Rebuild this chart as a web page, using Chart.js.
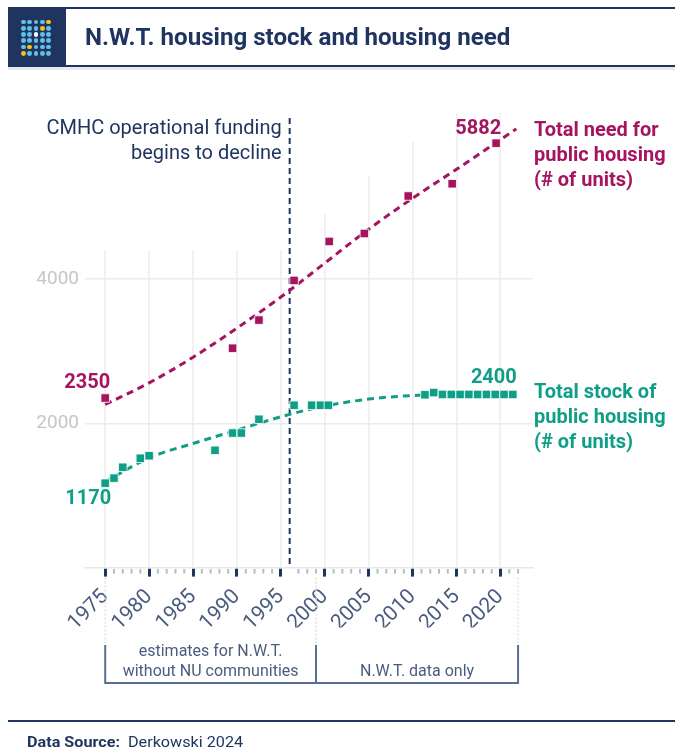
<!DOCTYPE html>
<html><head><meta charset="utf-8">
<script src="https://cdn.jsdelivr.net/npm/chart.js@4/dist/chart.umd.min.js"></script>
<style>
html,body{margin:0;padding:0;background:#fff;width:675px;height:753px;overflow:hidden;font-family:Roboto,"Noto Sans",sans-serif;}
#wrap{position:relative;width:675px;height:753px;}
canvas{position:absolute;left:0;top:0;}
.abs{position:absolute;}
.dot{position:absolute;width:4.8px;height:4.8px;border-radius:50%;}
#title{left:85px;top:21px;font-weight:700;font-size:24px;line-height:32px;color:#1f3560;white-space:nowrap;transform-origin:0 50%;}
#src{left:27px;top:732px;font-size:15.5px;line-height:20px;color:#1f3560;white-space:nowrap;transform-origin:0 50%;}
</style></head><body>
<div id="wrap">
<canvas id="c" width="675" height="753"></canvas>
<div class="abs" style="left:8px;top:7px;width:667px;height:2px;background:#1f3560"></div>
<div class="abs" id="logo" style="left:8px;top:8px;width:58px;height:58px;background:#1f3560"></div>
<div class="abs" style="left:8px;top:65px;width:667px;height:2px;background:#1f3560"></div>
<div class="abs" style="left:8px;top:67px;width:667px;height:3px;background:#e6e9ee"></div>
<div class="abs" id="title">N.W.T. housing stock and housing need</div>
<div class="abs" style="left:8px;top:720px;width:667px;height:2px;background:#1f3560"></div>
<div class="abs" id="src"><b>Data Source:</b>&nbsp;&nbsp;Derkowski 2024</div>
</div>
<script>
// ---------- data ----------
const needYears  = [1975, 1989.5, 1992.5, 1996.5, 2000.5, 2004.5, 2009.5, 2014.5, 2019.5];
const needValues = [2350, 3040, 3430, 3980, 4520, 4630, 5150, 5320, 5882];

const stockYears  = [1975, 1976, 1977, 1979, 1980, 1987.5, 1989.5, 1990.5, 1992.5, 1996.5, 1998.5, 1999.5, 2000.4,
                     2011.4, 2012.4, 2013.4, 2014.4, 2015.4, 2016.4, 2017.4, 2018.4, 2019.4, 2020.4, 2021.4];
const stockValues = [1170, 1240, 1390, 1515, 1550, 1625, 1865, 1865, 2055, 2250, 2250, 2250, 2250,
                     2395, 2425, 2400, 2400, 2400, 2400, 2400, 2400, 2400, 2400, 2400];

const trendYears      = [1975, 1980, 1985, 1990, 1995, 2000, 2005, 2010, 2015, 2020, 2021.8];
const needTrendValues = [2260, 2560, 2915, 3320, 3750, 4220, 4690, 5120, 5520, 5930, 6080];
const stockTrendValues= [1190, 1520, 1720, 1905, 2090, 2240, 2335, 2385, 2400, 2400, 2400];

const xTickYears   = [];  for (let yr = 1975; yr <= 2022; yr++) xTickYears.push(yr);
const xLabelYears  = [1975, 1980, 1985, 1990, 1995, 2000, 2005, 2010, 2015, 2020];
const yTickValues  = [2000, 4000];
const gridTops     = [4400, 4400, 4400, 4400, 4400, 4900, 5430, 5900, 6300, 6300];
const fundingYear  = 1996;
const fundingText  = ['CMHC operational funding', 'begins to decline'];
const needLabel    = ['Total need for', 'public housing', '(# of units)'];
const stockLabel   = ['Total stock of', 'public housing', '(# of units)'];
const periodBounds = [1975, 1999, 2022];
const periodLabels = [['estimates for N.W.T.', 'without NU communities'], ['N.W.T. data only']];

// ---------- header decorations ----------
const logo = document.getElementById('logo');
const dotColors = [
 ['b','b','b','b','y'],
 ['b','b','b','y','b'],
 ['b','b','w','b','b'],
 ['b','b','b','b','b'],
 ['b','y','b','b','b'],
 ['y','b','b','b','b']];
const cmap = {b:'#62bfe6', y:'#f3c316', w:'#ffffff'};
dotColors.forEach((row,r)=>row.forEach((c,ci)=>{
  const d=document.createElement('div'); d.className='dot';
  d.style.left=(13+ci*6.3)+'px'; d.style.top=(11.5+r*6.3)+'px'; d.style.background=cmap[c];
  logo.appendChild(d);
}));
function fitWidth(id, w){ const el=document.getElementById(id); const s=w/el.scrollWidth; el.style.transform='scaleX('+s+')'; }

// ---------- chart ----------
const NEED='#a5145e', STOCK='#0f9f86', NAVY='#1f3560', SLATE='#4b5c80';
const FONT='Roboto, "Noto Sans", sans-serif';

const deco = {
  id:'deco',
  beforeDatasetsDraw(chart){
    const {ctx, chartArea:a, scales:{x,y}} = chart;
    ctx.save();
    ctx.strokeStyle='#ececec'; ctx.lineWidth=1.5;
    xLabelYears.forEach((yr,i)=>{
      const px=Math.round(x.getPixelForValue(yr));
      ctx.beginPath(); ctx.moveTo(px, y.getPixelForValue(gridTops[i])); ctx.lineTo(px, a.bottom); ctx.stroke();
    });
    const fx = x.getPixelForValue(fundingYear);
    ctx.strokeStyle=NAVY; ctx.lineWidth=2; ctx.setLineDash([6,4]);
    ctx.beginPath(); ctx.moveTo(fx, a.top+5); ctx.lineTo(fx, a.bottom); ctx.stroke();
    ctx.restore();
  },
  afterDraw(chart){
    const {ctx, chartArea:a, scales:{x,y}} = chart;
    ctx.save();
    // minor ticks
    ctx.strokeStyle='#b3bccd'; ctx.lineWidth=2;
    xTickYears.forEach(yr=>{ if(yr%5!==0 && yr!==fundingYear){ const px=x.getPixelForValue(yr);
      ctx.beginPath(); ctx.moveTo(px,a.bottom+1.5); ctx.lineTo(px,a.bottom+6); ctx.stroke(); }});
    // funding annotation
    const fx = x.getPixelForValue(fundingYear);
    ctx.fillStyle=NAVY; ctx.font='400 20px '+FONT; ctx.textAlign='right'; ctx.textBaseline='middle';
    fundingText.forEach((t,i)=>ctx.fillText(t, fx-8, a.top+16+i*25));
    // value labels
    ctx.font='700 20px '+FONT; ctx.textAlign='right';
    ctx.fillStyle=NEED;
    ctx.fillText(String(needValues[0]), x.getPixelForValue(needYears[0])+5, y.getPixelForValue(needValues[0])-15);
    const nl=needValues.length-1;
    ctx.fillText(String(needValues[nl]), x.getPixelForValue(needYears[nl])+5, y.getPixelForValue(needValues[nl])-14);
    ctx.fillStyle=STOCK;
    ctx.fillText(String(stockValues[0]), x.getPixelForValue(stockYears[0])+6, y.getPixelForValue(stockValues[0])+16);
    const sl=stockValues.length-1;
    ctx.fillText(String(stockValues[sl]), x.getPixelForValue(stockYears[sl])+4, y.getPixelForValue(stockValues[sl])-16);
    // series labels
    ctx.textAlign='left';
    ctx.fillStyle=NEED;
    const ny = y.getPixelForValue(needTrendValues[needTrendValues.length-1]);
    needLabel.forEach((t,i)=>ctx.fillText(t, a.right+1, ny+2+i*25));
    ctx.fillStyle=STOCK;
    const sy = y.getPixelForValue(stockValues[sl]);
    stockLabel.forEach((t,i)=>ctx.fillText(t, a.right+1, sy-1+i*25));
    // period brackets
    const bTop=645, bBot=683;
    ctx.strokeStyle='#e2e2e2'; ctx.lineWidth=1.5; ctx.setLineDash([2,2]);
    periodBounds.forEach(b=>{ const px=x.getPixelForValue(b); ctx.beginPath(); ctx.moveTo(px,a.bottom+10); ctx.lineTo(px,bTop); ctx.stroke(); });
    ctx.setLineDash([]);
    ctx.strokeStyle='#5a6d93'; ctx.lineWidth=2;
    const p0=x.getPixelForValue(periodBounds[0]), p2=x.getPixelForValue(periodBounds[periodBounds.length-1]);
    ctx.beginPath(); ctx.moveTo(p0,bBot); ctx.lineTo(p2,bBot); ctx.stroke();
    periodBounds.forEach(b=>{ const px=x.getPixelForValue(b); ctx.beginPath(); ctx.moveTo(px,bTop); ctx.lineTo(px,bBot+1); ctx.stroke(); });
    ctx.fillStyle=SLATE; ctx.font='400 16px '+FONT; ctx.textAlign='center'; ctx.textBaseline='middle';
    periodLabels.forEach((lines,i)=>{
      const cx=(x.getPixelForValue(periodBounds[i])+x.getPixelForValue(periodBounds[i+1]))/2;
      const n=lines.length;
      lines.forEach((t,j)=>ctx.fillText(t, cx, 672-(n-1-j)*20));
    });
    ctx.restore();
  }
};

const pts = (xs, ys) => xs.map((v,i)=>({x:v, y:ys[i]}));

new Chart(document.getElementById('c'), {
  type:'scatter',
  data:{datasets:[
    {label:'need', data:pts(needYears,needValues), backgroundColor:NEED, borderColor:'rgba(255,255,255,0.8)', borderWidth:1, pointStyle:'rect', pointRadius:6},
    {label:'stock', data:pts(stockYears,stockValues), backgroundColor:STOCK, borderColor:'rgba(255,255,255,0.8)', borderWidth:1, pointStyle:'rect', pointRadius:6},
    {label:'needTrend', data:pts(trendYears,needTrendValues), showLine:true, borderColor:NEED, borderWidth:3, borderDash:[7,5], pointRadius:0, cubicInterpolationMode:'monotone', fill:false},
    {label:'stockTrend', data:pts(trendYears,stockTrendValues), showLine:true, borderColor:STOCK, borderWidth:3, borderDash:[7,5], pointRadius:0, cubicInterpolationMode:'monotone', fill:false}
  ]},
  options:{
    responsive:false, animation:false, devicePixelRatio:1,
    layout:{padding:{top:113, right:142, bottom:125.4, left:0}},
    plugins:{legend:{display:false}, tooltip:{enabled:false}},
    scales:{
      x:{type:'linear', min:1972.7, max:2023.7,
         afterBuildTicks:s=>{ s.ticks = xTickYears.map(v=>({value:v})); },
         afterFit:s=>{ s.height=60; },
         ticks:{autoSkip:false, minRotation:45, maxRotation:45, padding:8, color:SLATE,
                font:{family:FONT, size:21},
                callback:v=> xLabelYears.includes(v) ? String(v) : ''},
         grid:{drawOnChartArea:false, drawTicks:true, tickLength:9,
               tickColor:c=> (c.tick && xLabelYears.includes(c.tick.value)) ? NAVY : 'rgba(0,0,0,0)', tickWidth:3},
         border:{display:true, color:'#e8e8e8', width:1.5}},
      y:{type:'linear', min:0, max:6300,
         afterBuildTicks:s=>{ s.ticks = yTickValues.map(v=>({value:v})); },
         afterFit:s=>{ s.width=85; },
         ticks:{color:'#c6c6c6', padding:6, font:{family:FONT, size:19}, callback:v=>String(v)},
         grid:{color:'#ececec', lineWidth:1.5, drawTicks:false},
         border:{display:false}}
    }
  },
  plugins:[deco]
});
fitWidth('title', 425);
fitWidth('src', 216);
</script>
</body></html>
